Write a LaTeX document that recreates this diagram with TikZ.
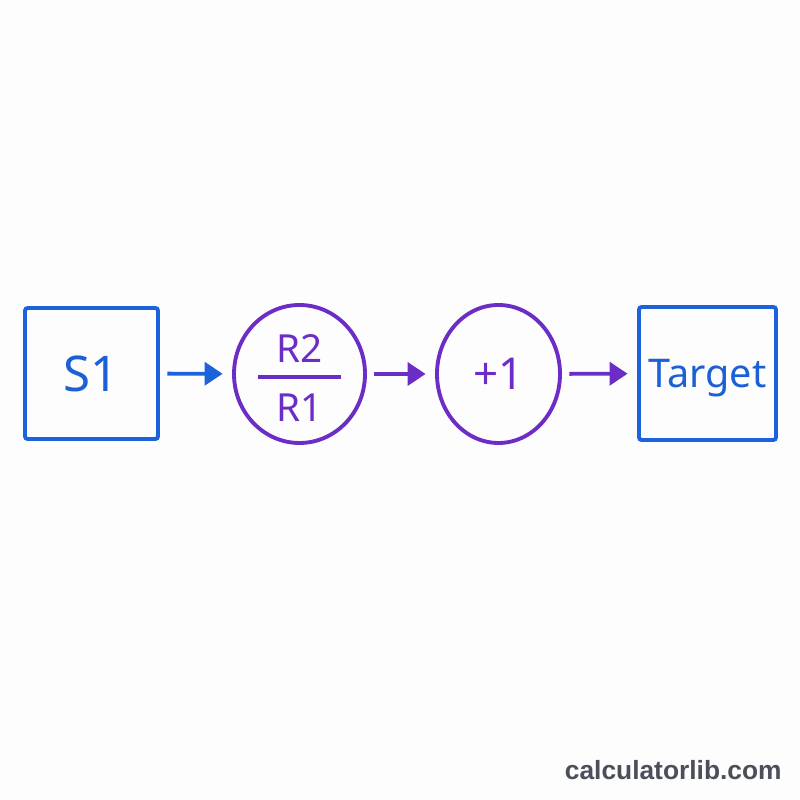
\documentclass[tikz,border=0pt]{standalone}
\usepackage{fontspec}
\setmainfont{Noto Sans}
\newfontfamily\footfont{Liberation Sans}
\usepackage{xcolor}
\usetikzlibrary{arrows.meta, calc, shapes.geometric}
\definecolor{flowblue}{RGB}{28,98,220}
\definecolor{flowtext}{RGB}{28,96,214}
\definecolor{flowpurple}{RGB}{108,44,198}
\definecolor{footgray}{RGB}{74,79,89}
\definecolor{paper}{RGB}{253,253,253}

\begin{document}
\begin{tikzpicture}[>={Triangle[length=0.36cm, width=0.46cm]},
  signal/.style={rectangle, draw=flowblue, line width=2.2pt, rounded corners=1.5pt, text=flowtext, inner sep=0pt},
  operator/.style={ellipse, draw=flowpurple, line width=2.2pt, text=flowpurple, inner sep=0pt},
  optext/.style={anchor=base, text=flowpurple, inner sep=0pt, font=\fontsize{22}{26}\selectfont},
  flow/.style={->, line width=2.2pt, shorten <=0.15cm, shorten >=0.19cm}]

  \fill[paper] (0,0) rectangle (16,16);
  \useasboundingbox (0,0) rectangle (16,16);

  \node[signal, minimum width=2.66cm, minimum height=2.62cm, font=\fontsize{28}{32}\selectfont] (S1) at (1.83,8.53) {S1};
  \node[operator, minimum width=2.62cm, minimum height=2.76cm] (ratio) at (5.99,8.52) {};
  \node[optext] (num) at ($(ratio.center)+(0,0.226)$) {R2};
  \node[optext] (den) at ($(ratio.center)+(0,-0.96)$) {R1};
  \draw[flowpurple, line width=2.2pt] ($(ratio.center)+(-0.83,-0.06)$) -- ($(ratio.center)+(0.83,-0.06)$);
  \node[operator, minimum width=2.46cm, minimum height=2.76cm, font=\fontsize{25}{30}\selectfont] (inc) at (9.97,8.52) {+1};
  \node[signal, minimum width=2.74cm, minimum height=2.66cm, text depth=0pt, font=\fontsize{22.5}{27}\selectfont] (target) at (14.15,8.53) {Target};

  \draw[flow, flowblue] (S1) -- (ratio);
  \draw[flow, flowpurple] (ratio) -- (inc);
  \draw[flow, flowpurple] (inc) -- (target);

  \node[anchor=base east, inner sep=0pt, text=footgray, font=\footfont\bfseries\fontsize{15}{18}\selectfont] (site) at (15.64,0.40) {calculatorlib.com};

\end{tikzpicture}
\end{document}
